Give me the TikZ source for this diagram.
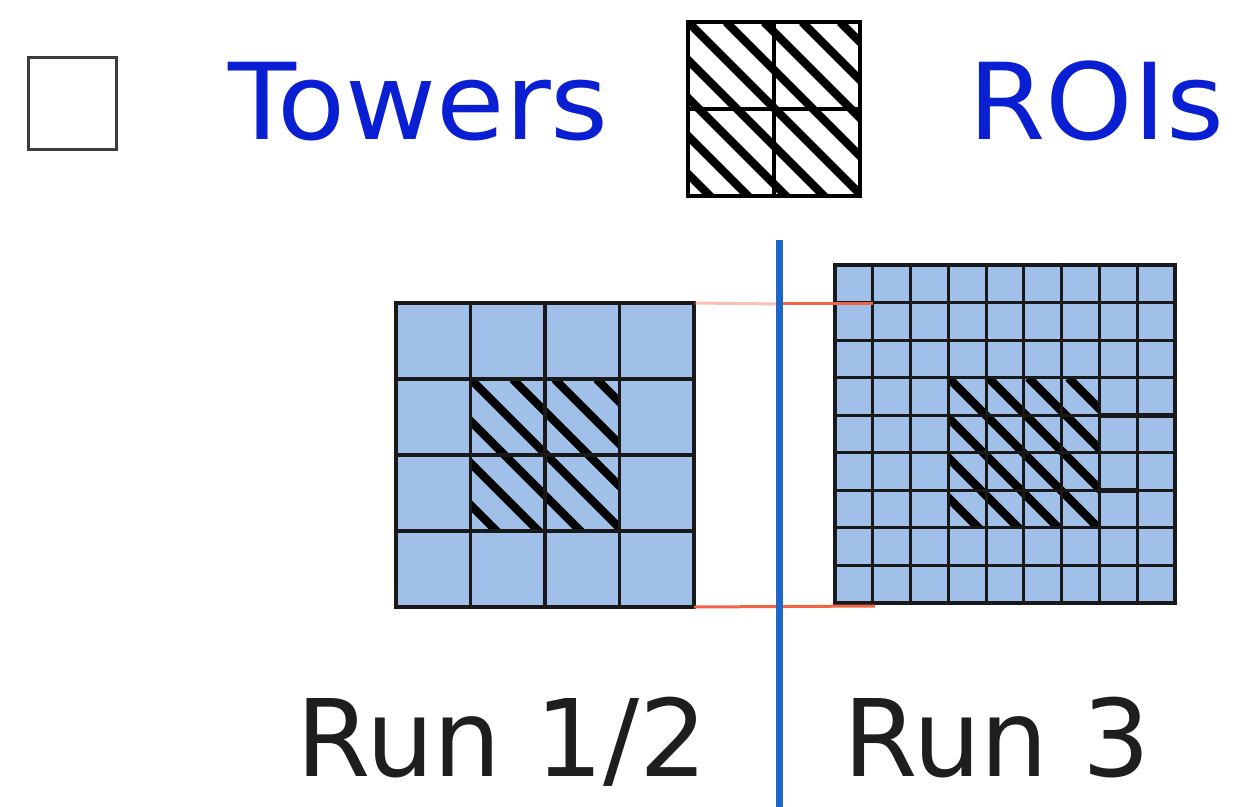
\documentclass[tikz,border=0pt]{standalone}
\usepackage{fontspec}
\setmainfont{DejaVu Sans}
\newfontfamily\keyfont[FakeStretch=1.05]{DejaVu Sans}
\definecolor{towerblue}{RGB}{160,192,234}
\definecolor{labelblue}{RGB}{10,30,210}
\definecolor{divider}{RGB}{30,102,200}
\definecolor{linkred}{RGB}{240,100,70}
\definecolor{gridline}{RGB}{25,25,25}
\definecolor{runink}{RGB}{30,30,30}

\tikzset{
  gridstroke/.style={draw=gridline, line width=1.6pt},
  boldstroke/.style={draw=gridline, line width=2.6pt},
  hatchstroke/.style={draw=black, line width=4.2pt},
  legendtext/.style={text=labelblue, font=\keyfont\fontsize{53}{60}\selectfont, inner sep=0pt, anchor=base west},
  runlabel/.style={text=runink, font=\fontsize{53.5}{60}\selectfont, inner sep=0pt, anchor=base west},
  link/.style={draw=linkred, line width=1.5pt},
  cellblock/.style={inner sep=0pt, outer sep=0pt},
}

% diagonal hatching inside the rectangle (#1,#2)-(#3,#4), stripe pitch #5
\newcommand\hatchbox[5]{%
  \begin{scope}
    \clip (#1,#2) rectangle (#3,#4);
    \foreach \k in {-7,...,7} {
      \draw[hatchstroke] ({#1+\k*#5},#2) -- ++(260,260);
    }
  \end{scope}}

\begin{document}
\begin{tikzpicture}[x=0.5pt,y=-0.5pt]
\useasboundingbox (0,0) rectangle (1240,807);

% ---- legend ----
\node[cellblock, draw=gridline!85, line width=1.5pt, fill=white,
      minimum width=44pt, minimum height=46pt] (towerkey) at (72,104) {};
\node[legendtext] (towerlbl) at (228,140) {Towers};

\node[cellblock, fill=white, minimum width=86pt, minimum height=87pt] (roikey) at (774,109) {};
\hatchbox{688}{22}{860}{196}{38}
\draw[gridstroke, draw=black] (roikey.north) -- (roikey.south);
\draw[gridstroke, draw=black] (roikey.west) -- (roikey.east);
\draw[gridstroke, draw=black] (roikey.north west) rectangle (roikey.south east);
\node[legendtext] (roilbl) at (968,140) {ROIs};

% ---- Run 1/2: 4x4 towers, central 2x2 ROI ----
\node[cellblock, fill=towerblue, minimum width=149pt, minimum height=152pt] (run12) at (545,455) {};
\hatchbox{470.5}{379}{619.5}{531}{42}
\foreach \i in {1,...,3}
  \draw[gridstroke] ({396+\i*74.5},303) -- ({396+\i*74.5},607);
\foreach \j in {1,...,3}
  \draw[gridstroke] (396,{303+\j*76}) -- (694,{303+\j*76});
\draw[gridstroke] (run12.north west) rectangle (run12.south east);

% ---- Run 3: 9x9 towers, central 4x4 ROI ----
\node[cellblock, fill=towerblue, minimum width=170pt, minimum height=169pt] (run3) at (1005,434) {};
\hatchbox{948.3}{377.7}{1099.4}{527.9}{40}
\foreach \i in {1,...,8}
  \draw[gridstroke, line width=1.5pt] ({835+\i*37.78},265) -- ({835+\i*37.78},603);
\foreach \j in {1,...,8}
  \draw[gridstroke, line width=1.5pt] (835,{265+\j*37.56}) -- (1175,{265+\j*37.56});
\draw[boldstroke] (1099.4,415.2) -- (1175,415.2);
\draw[boldstroke] (1099.4,490.4) -- (1137,490.4);
\draw[gridstroke] (run3.north west) rectangle (run3.south east);

% ---- links between the two granularities ----
\coordinate (linkmid) at (779,304);
\coordinate (linktop) at (873,304);
\coordinate (linkbot) at (875,606);
\draw[link, opacity=0.4] (run12.north east) -- (linkmid);
\draw[link] (linkmid) -- (linktop);
\draw[link] (run12.south east) -- (linkbot);

% ---- divider ----
\coordinate (divtop) at (779,240);
\coordinate (divbot) at (779,807);
\draw[draw=divider, line width=3.5pt] (divtop) -- (divbot);

% ---- captions ----
\node[runlabel] (run12lbl) at (296,776) {Run 1/2};
\node[runlabel] (run3lbl) at (843,776) {Run 3};
\end{tikzpicture}
\end{document}
